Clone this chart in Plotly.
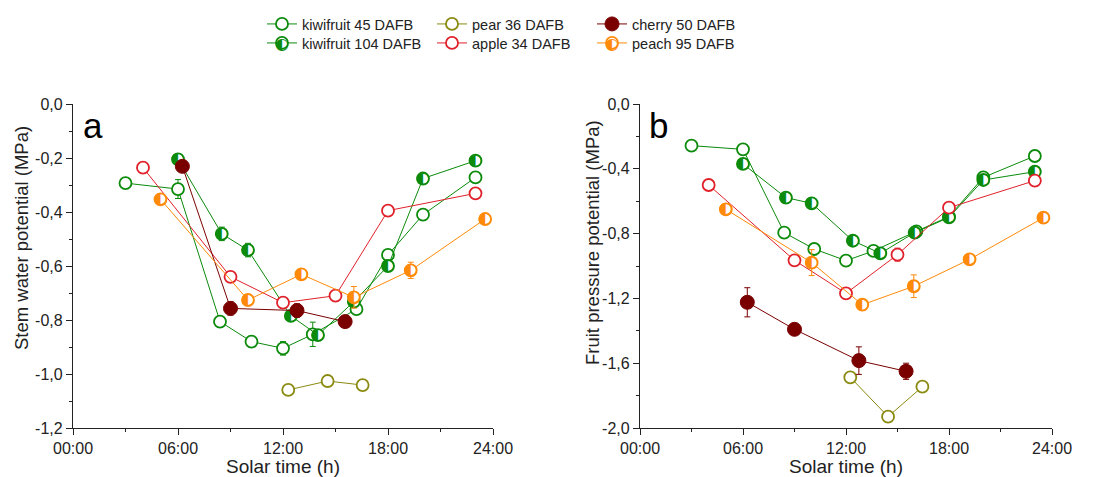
import plotly.graph_objects as go

# ---------------- data ----------------
# Panel a: stem water potential (MPa) vs solar time (h)
kiwi45_a_t = [3.0, 6.0, 8.4, 10.2, 12.0, 13.7, 16.2, 18.0, 20.0, 23.0]
kiwi45_a_v = [-0.293, -0.315, -0.806, -0.880, -0.905, -0.853, -0.760, -0.559, -0.410, -0.272]
kiwi45_a_e = [0.008, 0.035, 0.015, 0.02, 0.025, 0.045, 0.015, 0.02, 0.02, 0.008]

kiwi104_a_t = [6.0, 8.5, 10.0, 12.45, 14.0, 16.05, 18.0, 20.0, 23.0]
kiwi104_a_v = [-0.205, -0.481, -0.541, -0.785, -0.856, -0.732, -0.600, -0.276, -0.210]
kiwi104_a_e = [0.008, 0.025, 0.025, 0.015, 0.02, 0.015, 0.015, 0.01, 0.008]

pear_a_t = [12.3, 14.55, 16.55]
pear_a_v = [-1.059, -1.026, -1.041]
pear_a_e = [0.005, 0.005, 0.005]

cherry_a_t = [6.25, 9.0, 12.8, 15.55]
cherry_a_v = [-0.231, -0.757, -0.765, -0.806]
cherry_a_e = [0.008, 0.025, 0.025, 0.01]

apple_a_t = [4.0, 9.0, 12.0, 15.0, 18.0, 23.0]
apple_a_v = [-0.236, -0.640, -0.736, -0.710, -0.395, -0.331]
apple_a_e = [0.01, 0.01, 0.008, 0.005, 0.01, 0.008]

peach_a_t = [5.0, 10.0, 13.05, 16.05, 19.3, 23.55]
peach_a_v = [-0.353, -0.726, -0.631, -0.716, -0.616, -0.426]
peach_a_e = [0.005, 0.01, 0.01, 0.04, 0.03, 0.008]

# Panel b: fruit pressure potential (MPa) vs solar time (h)
kiwi45_b_t = [3.0, 6.0, 8.4, 10.15, 12.0, 13.6, 16.1, 18.0, 20.0, 23.0]
kiwi45_b_v = [-0.257, -0.280, -0.794, -0.895, -0.967, -0.907, -0.786, -0.695, -0.453, -0.321]
kiwi45_b_e = [0.015, 0.01, 0.01, 0.01, 0.02, 0.01, 0.01, 0.01, 0.01, 0.01]

kiwi104_b_t = [6.0, 8.5, 10.0, 12.4, 14.0, 16.0, 18.0, 20.0, 23.0]
kiwi104_b_v = [-0.370, -0.578, -0.613, -0.844, -0.922, -0.794, -0.700, -0.469, -0.418]
kiwi104_b_e = [0.02, 0.01, 0.01, 0.02, 0.01, 0.01, 0.03, 0.01, 0.01]

pear_b_t = [12.25, 14.45, 16.45]
pear_b_v = [-1.687, -1.930, -1.745]
pear_b_e = [0.01, 0.01, 0.01]

cherry_b_t = [6.25, 9.0, 12.75, 15.5]
cherry_b_v = [-1.224, -1.391, -1.584, -1.650]
cherry_b_e = [0.09, 0.03, 0.085, 0.05]

apple_b_t = [4.0, 9.0, 12.0, 15.0, 18.0, 23.0]
apple_b_v = [-0.500, -0.965, -1.169, -0.930, -0.640, -0.473]
apple_b_e = [0.01, 0.01, 0.01, 0.04, 0.02, 0.01]

peach_b_t = [5.0, 10.0, 12.95, 15.95, 19.2, 23.5]
peach_b_v = [-0.650, -0.979, -1.239, -1.125, -0.959, -0.702]
peach_b_e = [0.01, 0.08, 0.03, 0.07, 0.01, 0.01]

x_tickvals = [0, 6, 12, 18, 24]
x_ticktext = ["00:00", "06:00", "12:00", "18:00", "24:00"]
ya_tickvals = [0.0, -0.2, -0.4, -0.6, -0.8, -1.0, -1.2]
ya_ticktext = ["0,0", "-0,2", "-0,4", "-0,6", "-0,8", "-1,0", "-1,2"]
yb_tickvals = [0.0, -0.4, -0.8, -1.2, -1.6, -2.0]
yb_ticktext = ["0,0", "-0,4", "-0,8", "-1,2", "-1,6", "-2,0"]

# ---------------- styles ----------------
GREEN = "#0b8a0b"
OLIVE = "#8a8a10"
MAROON = "#7a0000"
RED = "#e0202a"
ORANGE = "#ff8a0a"
FONT = "Liberation Sans, Arial, sans-serif"
MSIZE = 12
W, H = 1102, 477
HALF = "\u25D0"

series = [
    # name, color, kind, legend id, legend px position (left, top), panel a data, panel b data
    ("kiwifruit 45 DAFB", GREEN, "open", "legend", (262, 8),
     (kiwi45_a_t, kiwi45_a_v, kiwi45_a_e), (kiwi45_b_t, kiwi45_b_v, kiwi45_b_e)),
    ("kiwifruit 104 DAFB", GREEN, "half", "legend2", (262, 27),
     (kiwi104_a_t, kiwi104_a_v, kiwi104_a_e), (kiwi104_b_t, kiwi104_b_v, kiwi104_b_e)),
    ("pear 36 DAFB", OLIVE, "open", "legend3", (432, 8),
     (pear_a_t, pear_a_v, pear_a_e), (pear_b_t, pear_b_v, pear_b_e)),
    ("apple 34 DAFB", RED, "open", "legend4", (432, 27),
     (apple_a_t, apple_a_v, apple_a_e), (apple_b_t, apple_b_v, apple_b_e)),
    ("cherry 50 DAFB", MAROON, "full", "legend5", (592, 8),
     (cherry_a_t, cherry_a_v, cherry_a_e), (cherry_b_t, cherry_b_v, cherry_b_e)),
    ("peach 95 DAFB", ORANGE, "half", "legend6", (592, 27),
     (peach_a_t, peach_a_v, peach_a_e), (peach_b_t, peach_b_v, peach_b_e)),
]

fig = go.Figure()
legend_layouts = {}
annotations = [
    dict(text="a", x=0.019, y=1.0, xref="x domain", yref="y domain", showarrow=False,
         xanchor="left", yanchor="top", font=dict(family=FONT, size=35, color="black")),
    dict(text="b", x=0.017, y=1.0, xref="x2 domain", yref="y2 domain", showarrow=False,
         xanchor="left", yanchor="top", font=dict(family=FONT, size=35, color="black")),
    dict(text="Stem water potential (MPa)", x=21 / W, y=1 - 238 / H, xref="paper", yref="paper",
         textangle=-90, xanchor="center", yanchor="middle", showarrow=False,
         font=dict(family=FONT, size=18.5, color="#222")),
    dict(text="Fruit pressure potential (MPa)", x=592 / W, y=1 - 243 / H, xref="paper", yref="paper",
         textangle=-90, xanchor="center", yanchor="middle", showarrow=False,
         font=dict(family=FONT, size=18.5, color="#222")),
]

for name, color, kind, leg, (lx, ly), da, db in series:
    for (t, v, e), xa, ya, show in ((da, "x", "y", True), (db, "x2", "y2", False)):
        if kind == "full":
            marker = dict(symbol="circle", size=MSIZE + 2, color=color,
                          line=dict(color=color, width=1))
        else:
            marker = dict(symbol="circle", size=MSIZE, color="white",
                          line=dict(color=color, width=1.8))
        fig.add_trace(go.Scatter(
            x=t, y=v, mode="lines+markers", name=name, legend=leg,
            showlegend=show, xaxis=xa, yaxis=ya,
            line=dict(color=color, width=1),
            marker=marker,
            error_y=dict(type="data", array=e, visible=True, color=color,
                         thickness=1, width=3),
        ))
        if kind == "half":
            fig.add_trace(go.Scatter(
                x=t, y=v, mode="text", text=[HALF] * len(t),
                textposition="middle center", showlegend=False,
                textfont=dict(family="DejaVu Sans", size=16, color=color),
                xaxis=xa, yaxis=ya, hoverinfo="skip",
            ))
    legend_layouts[leg] = dict(
        x=lx / W, y=1 - ly / H, xref="container", yref="container",
        xanchor="left", yanchor="top",
        font=dict(family=FONT, size=14.5, color="#222"),
        bgcolor="rgba(0,0,0,0)", borderwidth=0,
    )
    if kind == "half":
        annotations.append(dict(
            text=HALF, x=(lx + 20) / W, y=1 - (ly + 16.5) / H, xref="paper", yref="paper",
            xanchor="center", yanchor="middle", showarrow=False,
            font=dict(family="DejaVu Sans", size=16, color=color),
        ))

# ---------------- layout ----------------
xa_dom = [73 / W, 493 / W]
xb_dom = [640 / W, 1052 / W]
y_dom = [1 - 428 / H, 1 - 104 / H]

axis_common = dict(
    showline=True, linecolor="#222", linewidth=1.2,
    ticks="outside", ticklen=6, tickwidth=1.2, tickcolor="#222",
    showgrid=False, zeroline=False, automargin=True,
    tickfont=dict(family=FONT, size=16, color="#222"),
)

fig.update_layout(
    width=W, height=H,
    margin=dict(l=0, r=0, t=0, b=0, autoexpand=False),
    plot_bgcolor="white", paper_bgcolor="white",
    font=dict(family=FONT, color="#222"),
    xaxis=dict(domain=xa_dom, range=[0, 24], tickvals=x_tickvals, ticktext=x_ticktext,
               anchor="y", minor=dict(tickvals=[3, 9, 15, 21], ticklen=3, ticks="outside", tickcolor="#222"),
               title=dict(text="Solar time (h)", font=dict(family=FONT, size=19), standoff=4),
               **axis_common),
    yaxis=dict(domain=y_dom, range=[-1.2, 0], tickvals=ya_tickvals, ticktext=ya_ticktext,
               anchor="x", minor=dict(tickvals=[-0.1, -0.3, -0.5, -0.7, -0.9, -1.1], ticklen=3, ticks="outside", tickcolor="#222"),
               **axis_common),
    xaxis2=dict(domain=xb_dom, range=[0, 24], tickvals=x_tickvals, ticktext=x_ticktext,
                anchor="y2", minor=dict(tickvals=[3, 9, 15, 21], ticklen=3, ticks="outside", tickcolor="#222"),
                title=dict(text="Solar time (h)", font=dict(family=FONT, size=19), standoff=4),
                **axis_common),
    yaxis2=dict(domain=y_dom, range=[-2.0, 0], tickvals=yb_tickvals, ticktext=yb_ticktext,
                anchor="x2", minor=dict(tickvals=[-0.2, -0.6, -1.0, -1.4, -1.8], ticklen=3, ticks="outside", tickcolor="#222"),
                **axis_common),
    annotations=annotations,
)
fig.update_layout(**legend_layouts)

fig.write_html("out.html", post_script="document.body.style.margin='0px';",
               config={"displayModeBar": False})
